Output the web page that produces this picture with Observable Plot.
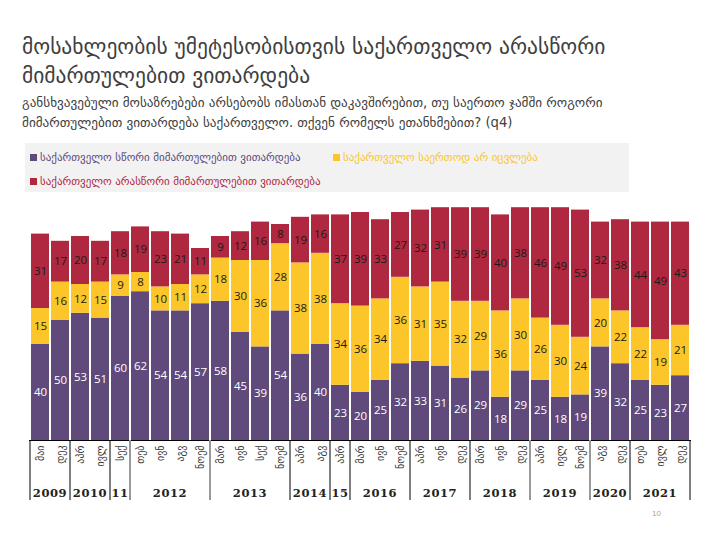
<!DOCTYPE html>
<html><head><meta charset="utf-8">
<script src="https://cdn.jsdelivr.net/npm/d3@7"></script>
<script src="https://cdn.jsdelivr.net/npm/@observablehq/plot@0.6"></script>
<style>
body{margin:0;width:721px;height:535px;background:#fff;position:relative;overflow:hidden;font-family:"DejaVu Sans",sans-serif;}
#title{position:absolute;left:22px;top:32px;width:700px;font-size:21.5px;line-height:29px;color:#3f3f3f;white-space:nowrap;}
#subtitle{position:absolute;left:22px;top:93px;width:700px;font-size:13.2px;line-height:20px;color:#404040;white-space:nowrap;}
#legend{position:absolute;left:25px;top:143px;width:604px;height:49px;background:#f2f2f2;}
.li{position:absolute;font-size:11px;white-space:nowrap;}
.sw{display:inline-block;width:7px;height:7px;margin-right:3px;}
#chart{position:absolute;left:0;top:200px;}
#page{position:absolute;left:652px;top:509px;font-size:8px;color:#c0a080;font-family:"Liberation Sans",sans-serif;}
</style></head>
<body>
<div id="title"></div>
<div id="subtitle"></div>
<div id="legend"></div>
<div id="chart"></div>
<div id="page">10</div>
<script>
const titleLines = ["მოსახლეობის უმეტესობისთვის საქართველო არასწორი", "მიმართულებით ვითარდება"];
const subtitleLines = ["განსხვავებული მოსაზრებები არსებობს იმასთან დაკავშირებით, თუ საერთო ჯამში როგორი", "მიმართულებით ვითარდება საქართველო. თქვენ რომელს ეთანხმებით? (q4)"];
const seriesNames = ["საქართველო სწორი მიმართულებით ვითარდება", "საქართველო საერთოდ არ იცვლება", "საქართველო არასწორი მიმართულებით ვითარდება"];
const seriesColors = ["#5f4a7b", "#fcc62a", "#b0283f"];
const months = ["მაი","დეკ","აპრ","ივლ","სექ","თებ","ივნ","აგვ","ნოემ","მარ","ივნ","სექ","ნოემ","აპრ","აგვ","აპრ","მარ","ივნ","ნოემ","აპრ","ივნ","დეკ","მარ","ივნ","დეკ","აპრ","ივლ","ნოემ","აგვ","დეკ","თებ","ივლ","დეკ"];
const yearLabels = ["2009","2010","11","2012","2013","2014","15","2016","2017","2018","2019","2020","2021"];
const yearCounts = [2,2,1,4,4,2,1,3,3,3,3,2,3];
const rightDir = [40,50,53,51,60,62,54,54,57,58,45,39,54,36,40,23,20,25,32,33,31,26,29,18,29,25,18,19,39,32,25,23,27];
const noChange = [15,16,12,15,9,8,10,11,12,18,30,36,28,38,38,34,36,34,36,31,35,32,29,36,30,26,30,24,20,22,22,19,21];
const wrongDir = [31,17,20,17,18,19,23,21,11,9,12,16,8,19,16,37,39,33,27,32,31,39,39,40,38,46,49,53,32,38,44,49,43];

document.getElementById("title").innerHTML = titleLines.join("<br>");
document.getElementById("subtitle").innerHTML = subtitleLines.join("<br>");
const leg = document.getElementById("legend");
const legPos = [[5,8],[308,8],[5,32]];
seriesNames.forEach((s,i)=>{
  const d = document.createElement("div");
  d.className = "li";
  d.style.left = legPos[i][0]+"px"; d.style.top = legPos[i][1]+"px";
  d.style.color = seriesColors[i];
  d.innerHTML = `<span class="sw" style="background:${seriesColors[i]}"></span>${s}`;
  leg.appendChild(d);
});

const keys = d3.range(months.length);
const series = [rightDir, noChange, wrongDir];
const rows = [];
keys.forEach(i => series.forEach((arr, j) => rows.push({key: i, series: seriesNames[j], value: arr[i]})));

const grayAfter = new Set(["11","2012","2018","2019"]);

const yearMark = (index, scales) => {
  const x = scales.x, y = scales.y;
  const step = x(keys[1]) - x(keys[0]);
  const bw = x.bandwidth ? x.bandwidth() : step * 0.9;
  const y0 = y(0);
  const g = d3.create("svg:g");
  let s = 0;
  const edge = (k, side) => side === "l" ? x(keys[k]) - (step - bw) / 2 : x(keys[k]) + bw + (step - bw) / 2;
  g.append("line").attr("x1", edge(0,"l")).attr("x2", edge(0,"l")).attr("y1", y0).attr("y2", y0 + 60).attr("stroke", "#000").attr("stroke-width", 1);
  yearLabels.forEach((lab, j) => {
    const n = yearCounts[j];
    const l = edge(s, "l"), r = edge(s + n - 1, "r");
    g.append("text").attr("x", (l + r) / 2).attr("y", y0 + 57).attr("text-anchor", "middle")
      .attr("font-family", "DejaVu Serif").attr("font-weight", "bold").attr("font-size", 11.5)
      .attr("letter-spacing", 0.6).attr("fill", "#222").text(lab);
    const gray = grayAfter.has(lab);
    g.append("line").attr("x1", r).attr("x2", r).attr("y1", y0).attr("y2", y0 + 60)
      .attr("stroke", gray ? "#999" : "#000").attr("stroke-width", gray ? 2 : 1);
    s += n;
  });
  return g.node();
};

const chart = Plot.plot({
  width: 721, height: 310,
  marginLeft: 29, marginRight: 30, marginTop: 0, marginBottom: 70,
  x: {domain: keys, padding: 0.1},
  y: {domain: [0, 100], axis: null},
  color: {domain: seriesNames, range: seriesColors},
  style: {fontFamily: "DejaVu Sans", background: "transparent"},
  marks: [
    Plot.barY(rows, {x: "key", y: "value", fill: "series", order: seriesNames}),
    Plot.text(rows, Plot.stackY({x: "key", y: "value", z: "series", order: seriesNames, text: "value",
      fill: d => d.series === seriesNames[0] ? "#ffffff" : "#1a1a1a", fontSize: 11.5, fontFamily: "Open Sans"})),
    Plot.ruleY([0], {stroke: "#000", strokeWidth: 1.2}),
    Plot.axisX({tickSize: 0, tickPadding: 5, tickRotate: -90, tickFormat: i => months[i], fontSize: 10, fill: "#333", label: null}),
    yearMark
  ]
});
document.getElementById("chart").appendChild(chart);
</script>
</body></html>
